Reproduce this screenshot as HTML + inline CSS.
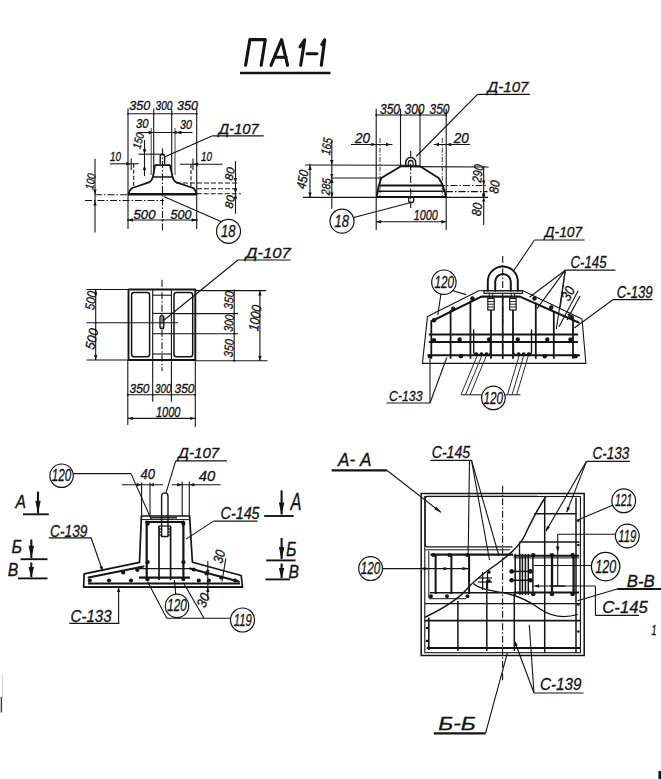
<!DOCTYPE html>
<html><head><meta charset="utf-8"><style>
html,body{margin:0;padding:0;background:#fff;}
svg{display:block;font-family:"Liberation Sans",sans-serif;}
</style></head><body>
<svg width="661" height="779" viewBox="0 0 661 779">
<rect width="661" height="779" fill="#ffffff"/>
<path d="M245.6 65.3 L249.9 39.6 L265.3 39.6 L261.2 65.3" fill="none" stroke="#141414" stroke-width="3.1" stroke-linejoin="round" stroke-linecap="round"/>
<path d="M271 65.3 L281.6 39.6 L287.6 65.3 M274.8 57.2 L286.2 57.2" fill="none" stroke="#141414" stroke-width="3.1" stroke-linejoin="round" stroke-linecap="round"/>
<path d="M300 46.8 L304.7 39.8 L300.7 65.3" fill="none" stroke="#141414" stroke-width="3.1" stroke-linejoin="round" stroke-linecap="round"/>
<path d="M307 53.8 L317 53.8" fill="none" stroke="#141414" stroke-width="2.9" stroke-linejoin="round" stroke-linecap="round"/>
<path d="M321.8 44.5 L324.7 39.8 L321.3 65.3" fill="none" stroke="#141414" stroke-width="3.1" stroke-linejoin="round" stroke-linecap="round"/>
<line x1="240" y1="73" x2="330.5" y2="73" stroke="#141414" stroke-width="2.4"/>
<line x1="128" y1="108.5" x2="128" y2="229" stroke="#141414" stroke-width="1.1"/>
<line x1="196.7" y1="108.5" x2="196.7" y2="229" stroke="#141414" stroke-width="1.1"/>
<line x1="153.7" y1="108.5" x2="153.7" y2="175" stroke="#141414" stroke-width="1.1"/>
<line x1="171.7" y1="108.5" x2="171.7" y2="175" stroke="#141414" stroke-width="1.1"/>
<line x1="128" y1="113.7" x2="196.7" y2="113.7" stroke="#141414" stroke-width="1.1"/>
<circle cx="128" cy="113.7" r="1.0" fill="#141414"/>
<circle cx="153.7" cy="113.7" r="1.0" fill="#141414"/>
<circle cx="171.7" cy="113.7" r="1.0" fill="#141414"/>
<circle cx="196.7" cy="113.7" r="1.0" fill="#141414"/>
<text x="129.3" y="110" font-size="12.10" font-style="italic" font-weight="normal" text-anchor="start" fill="#141414" stroke="#141414" stroke-width="0.32" textLength="21" lengthAdjust="spacingAndGlyphs">350</text>
<text x="155.5" y="110" font-size="12.10" font-style="italic" font-weight="normal" text-anchor="start" fill="#141414" stroke="#141414" stroke-width="0.32" textLength="17" lengthAdjust="spacingAndGlyphs">300</text>
<text x="177" y="110" font-size="12.10" font-style="italic" font-weight="normal" text-anchor="start" fill="#141414" stroke="#141414" stroke-width="0.32" textLength="21" lengthAdjust="spacingAndGlyphs">350</text>
<line x1="137.5" y1="132.5" x2="192.5" y2="132.5" stroke="#141414" stroke-width="1.1"/>
<path d="M153.70 132.50 L148.70 134.20 L148.70 130.80 Z" fill="#141414"/>
<path d="M171.70 132.50 L176.70 130.80 L176.70 134.20 Z" fill="#141414"/>
<line x1="151.2" y1="128" x2="151.2" y2="175" stroke="#141414" stroke-width="0.8"/>
<line x1="175" y1="128" x2="175" y2="175" stroke="#141414" stroke-width="0.8"/>
<path d="M175.50 132.50 L181.50 130.80 L181.50 134.20 Z" fill="#141414"/>
<text x="136" y="127.5" font-size="12.10" font-style="italic" font-weight="normal" text-anchor="start" fill="#141414" stroke="#141414" stroke-width="0.32" textLength="12.5" lengthAdjust="spacingAndGlyphs">30</text>
<text x="180" y="129" font-size="12.10" font-style="italic" font-weight="normal" text-anchor="start" fill="#141414" stroke="#141414" stroke-width="0.32" textLength="12" lengthAdjust="spacingAndGlyphs">30</text>
<text x="140.3" y="149.5" font-size="11.55" font-style="italic" font-weight="normal" text-anchor="start" fill="#141414" stroke="#141414" stroke-width="0.32" textLength="16" lengthAdjust="spacingAndGlyphs" transform="rotate(-76 140.3 149.5)">150</text>
<line x1="144.5" y1="140" x2="144.5" y2="176" stroke="#141414" stroke-width="1.1"/>
<path d="M144.50 154.20 L142.80 149.20 L146.20 149.20 Z" fill="#141414"/>
<path d="M144.50 165.00 L146.20 170.00 L142.80 170.00 Z" fill="#141414"/>
<line x1="138.5" y1="154.2" x2="162" y2="154.2" stroke="#141414" stroke-width="1.1"/>
<line x1="162.5" y1="148.5" x2="162.5" y2="232.5" stroke="#141414" stroke-width="1.1" stroke-dasharray="7 2 1.5 2"/>
<path d="M160.2 163.5 L160.2 156.5 Q160.2 154.3 162.4 154.3 Q164.6 154.3 164.6 156.5 L164.6 163.5" fill="none" stroke="#141414" stroke-width="1.4" stroke-linejoin="round" stroke-linecap="round"/>
<path d="M155.1 165.2 L170 165.2 L172.6 177 Q173.5 181 176.5 182.4 L193 188 Q195.5 189.5 196.5 193.8 L128.5 193.8 Q129.5 189.5 132.5 188 L148.8 182.4 Q151.8 181 152.8 177 Z" fill="none" stroke="#141414" stroke-width="1.7" stroke-linejoin="round" stroke-linecap="round"/>
<line x1="152.8" y1="177" x2="172.6" y2="177" stroke="#141414" stroke-width="1.5"/>
<line x1="128" y1="194.4" x2="196.7" y2="194.4" stroke="#141414" stroke-width="2.2"/>
<text x="110" y="160.5" font-size="12.10" font-style="italic" font-weight="normal" text-anchor="start" fill="#141414" stroke="#141414" stroke-width="0.32" textLength="11" lengthAdjust="spacingAndGlyphs">10</text>
<line x1="110" y1="163.8" x2="138.7" y2="163.8" stroke="#141414" stroke-width="1.1"/>
<path d="M131.20 163.80 L126.20 165.50 L126.20 162.10 Z" fill="#141414"/>
<line x1="131.2" y1="158.5" x2="131.2" y2="170" stroke="#141414" stroke-width="1.1"/>
<line x1="133.7" y1="163.8" x2="133.7" y2="186" stroke="#141414" stroke-width="1.1" stroke-dasharray="4 2"/>
<text x="201" y="161" font-size="12.10" font-style="italic" font-weight="normal" text-anchor="start" fill="#141414" stroke="#141414" stroke-width="0.32" textLength="11" lengthAdjust="spacingAndGlyphs">10</text>
<line x1="180" y1="164.2" x2="222.5" y2="164.2" stroke="#141414" stroke-width="1.1"/>
<path d="M193.00 164.20 L198.00 162.50 L198.00 165.90 Z" fill="#141414"/>
<line x1="193" y1="158.5" x2="193" y2="170" stroke="#141414" stroke-width="1.1"/>
<line x1="191" y1="164.2" x2="191" y2="187" stroke="#141414" stroke-width="1.1" stroke-dasharray="4 2"/>
<text x="93" y="190" font-size="11.55" font-style="italic" font-weight="normal" text-anchor="start" fill="#141414" stroke="#141414" stroke-width="0.32" textLength="16" lengthAdjust="spacingAndGlyphs" transform="rotate(-80 93 190)">100</text>
<line x1="95" y1="158.7" x2="95" y2="232.5" stroke="#141414" stroke-width="1.1"/>
<path d="M95.00 194.40 L93.30 189.40 L96.70 189.40 Z" fill="#141414"/>
<path d="M95.00 200.50 L96.70 205.50 L93.30 205.50 Z" fill="#141414"/>
<line x1="95" y1="194.8" x2="128" y2="194.8" stroke="#141414" stroke-width="1.1" stroke-dasharray="7 2 1.5 2"/>
<line x1="85" y1="200.5" x2="164" y2="200.5" stroke="#141414" stroke-width="1.1" stroke-dasharray="7 2 1.5 2"/>
<line x1="128" y1="220" x2="196.7" y2="220" stroke="#141414" stroke-width="1.1"/>
<circle cx="128" cy="220" r="1.0" fill="#141414"/>
<circle cx="162.5" cy="220" r="1.0" fill="#141414"/>
<circle cx="196.7" cy="220" r="1.0" fill="#141414"/>
<path d="M128.00 220.00 L133.00 218.30 L133.00 221.70 Z" fill="#141414"/>
<path d="M196.70 220.00 L191.70 221.70 L191.70 218.30 Z" fill="#141414"/>
<text x="133.5" y="218.5" font-size="12.10" font-style="italic" font-weight="normal" text-anchor="start" fill="#141414" stroke="#141414" stroke-width="0.32" textLength="22" lengthAdjust="spacingAndGlyphs">500</text>
<text x="170.5" y="218.5" font-size="12.10" font-style="italic" font-weight="normal" text-anchor="start" fill="#141414" stroke="#141414" stroke-width="0.32" textLength="21" lengthAdjust="spacingAndGlyphs">500</text>
<line x1="163.7" y1="196.5" x2="221" y2="221.5" stroke="#141414" stroke-width="1.1"/>
<circle cx="228.5" cy="231.3" r="12" fill="none" stroke="#141414" stroke-width="1.2"/>
<text x="220.9" y="236.9" font-size="16.50" font-style="italic" font-weight="normal" text-anchor="start" fill="#141414" stroke="#141414" stroke-width="0.32" textLength="14.5" lengthAdjust="spacingAndGlyphs">18</text>
<text x="218.7" y="133.5" font-size="14.30" font-style="italic" font-weight="normal" text-anchor="start" fill="#141414" stroke="#141414" stroke-width="0.32" textLength="40" lengthAdjust="spacingAndGlyphs">Д-107</text>
<line x1="212.5" y1="135.8" x2="263.7" y2="135.8" stroke="#141414" stroke-width="1.2"/>
<line x1="212.5" y1="135.8" x2="164.5" y2="157" stroke="#141414" stroke-width="1.1"/>
<line x1="235.5" y1="161" x2="235.5" y2="213.7" stroke="#141414" stroke-width="1.1"/>
<path d="M235.50 183.00 L233.80 178.00 L237.20 178.00 Z" fill="#141414"/>
<path d="M235.50 193.80 L233.80 188.80 L237.20 188.80 Z" fill="#141414"/>
<path d="M235.50 193.80 L237.20 198.80 L233.80 198.80 Z" fill="#141414"/>
<text x="232.5" y="181" font-size="11.55" font-style="italic" font-weight="normal" text-anchor="start" fill="#141414" stroke="#141414" stroke-width="0.32" textLength="13" lengthAdjust="spacingAndGlyphs" transform="rotate(-80 232.5 181)">80</text>
<text x="232.5" y="209" font-size="11.55" font-style="italic" font-weight="normal" text-anchor="start" fill="#141414" stroke="#141414" stroke-width="0.32" textLength="13" lengthAdjust="spacingAndGlyphs" transform="rotate(-80 232.5 209)">80</text>
<line x1="176" y1="183" x2="239" y2="183" stroke="#141414" stroke-width="1.1" stroke-dasharray="5 2"/>
<line x1="197" y1="188.7" x2="239" y2="188.7" stroke="#141414" stroke-width="1.1" stroke-dasharray="5 2"/>
<line x1="196.7" y1="193.8" x2="241" y2="193.8" stroke="#141414" stroke-width="1.1" stroke-dasharray="5 2"/>
<line x1="376.2" y1="108.7" x2="376.2" y2="230" stroke="#141414" stroke-width="1.1"/>
<line x1="446.2" y1="108.7" x2="446.2" y2="230" stroke="#141414" stroke-width="1.1"/>
<line x1="400.5" y1="108.7" x2="400.5" y2="166" stroke="#141414" stroke-width="1.1"/>
<line x1="420" y1="108.7" x2="420" y2="166" stroke="#141414" stroke-width="1.1"/>
<line x1="376.2" y1="115" x2="446.2" y2="115" stroke="#141414" stroke-width="1.1"/>
<circle cx="376.2" cy="115" r="1.0" fill="#141414"/>
<circle cx="400.5" cy="115" r="1.0" fill="#141414"/>
<circle cx="420" cy="115" r="1.0" fill="#141414"/>
<circle cx="446.2" cy="115" r="1.0" fill="#141414"/>
<text x="380" y="114" font-size="14.30" font-style="italic" font-weight="normal" text-anchor="start" fill="#141414" stroke="#141414" stroke-width="0.32" textLength="20" lengthAdjust="spacingAndGlyphs">350</text>
<text x="404.5" y="114" font-size="14.30" font-style="italic" font-weight="normal" text-anchor="start" fill="#141414" stroke="#141414" stroke-width="0.32" textLength="20" lengthAdjust="spacingAndGlyphs">300</text>
<text x="429.5" y="114" font-size="14.30" font-style="italic" font-weight="normal" text-anchor="start" fill="#141414" stroke="#141414" stroke-width="0.32" textLength="20" lengthAdjust="spacingAndGlyphs">350</text>
<text x="355" y="142.5" font-size="14.30" font-style="italic" font-weight="normal" text-anchor="start" fill="#141414" stroke="#141414" stroke-width="0.32" textLength="15" lengthAdjust="spacingAndGlyphs">20</text>
<line x1="351" y1="144.5" x2="392.5" y2="144.5" stroke="#141414" stroke-width="1.1"/>
<path d="M376.20 144.50 L371.20 146.20 L371.20 142.80 Z" fill="#141414"/>
<path d="M391.00 144.50 L386.00 146.20 L386.00 142.80 Z" fill="#141414"/>
<line x1="380" y1="138" x2="380" y2="196" stroke="#141414" stroke-width="0.8" stroke-dasharray="5 1.5 1.5 1.5"/>
<text x="453.7" y="142.5" font-size="14.30" font-style="italic" font-weight="normal" text-anchor="start" fill="#141414" stroke="#141414" stroke-width="0.32" textLength="15" lengthAdjust="spacingAndGlyphs">20</text>
<line x1="433.7" y1="144.5" x2="470" y2="144.5" stroke="#141414" stroke-width="1.1"/>
<path d="M446.20 144.50 L451.20 142.80 L451.20 146.20 Z" fill="#141414"/>
<path d="M434.00 144.50 L439.00 142.80 L439.00 146.20 Z" fill="#141414"/>
<line x1="442.3" y1="138" x2="442.3" y2="196" stroke="#141414" stroke-width="0.8" stroke-dasharray="5 1.5 1.5 1.5"/>
<text x="487.5" y="92.3" font-size="15.40" font-style="italic" font-weight="normal" text-anchor="start" fill="#141414" stroke="#141414" stroke-width="0.32" textLength="41" lengthAdjust="spacingAndGlyphs">Д-107</text>
<line x1="477.5" y1="94.3" x2="530" y2="94.3" stroke="#141414" stroke-width="1.2"/>
<line x1="477.5" y1="94.3" x2="416.2" y2="156.5" stroke="#141414" stroke-width="1.1"/>
<path d="M405.7 166 L405.7 162.5 A5 5 0 0 1 415.7 162.5 L415.7 166" fill="none" stroke="#141414" stroke-width="1.5" stroke-linejoin="round" stroke-linecap="round"/>
<path d="M408.3 166 L408.3 162.8 A2.4 2.4 0 0 1 413.1 162.8 L413.1 166" fill="none" stroke="#141414" stroke-width="1.2" stroke-linejoin="round" stroke-linecap="round"/>
<line x1="410.7" y1="151" x2="410.7" y2="210" stroke="#141414" stroke-width="1.1" stroke-dasharray="7 2 1.5 2"/>
<path d="M401 166.2 L420 166.2 L438.7 178 Q444 186 445.8 196.5 M401 166.2 L381.3 178 Q378 186 376.8 196.5" fill="none" stroke="#141414" stroke-width="1.9" stroke-linejoin="round" stroke-linecap="round"/>
<line x1="376.2" y1="197" x2="446.2" y2="197" stroke="#141414" stroke-width="1.8"/>
<line x1="380" y1="185.5" x2="442.5" y2="185.5" stroke="#141414" stroke-width="1.8"/>
<line x1="378" y1="191.3" x2="444.8" y2="191.3" stroke="#141414" stroke-width="1.5"/>
<path d="M408.7 197.5 L408.7 201 Q408.7 202.7 411.2 202.7 Q413.7 202.7 413.7 201 L413.7 197.5" fill="none" stroke="#141414" stroke-width="1.3" stroke-linejoin="round" stroke-linecap="round"/>
<line x1="305" y1="165" x2="410" y2="165.3" stroke="#141414" stroke-width="1.1"/>
<line x1="410" y1="166.6" x2="488.7" y2="167" stroke="#141414" stroke-width="1.1"/>
<line x1="331" y1="178" x2="381" y2="178" stroke="#141414" stroke-width="1.1"/>
<line x1="303" y1="197.4" x2="488" y2="197.4" stroke="#141414" stroke-width="1.1"/>
<line x1="438" y1="185.5" x2="487.5" y2="185.5" stroke="#141414" stroke-width="1.1" stroke-dasharray="7 2 1.5 2"/>
<line x1="446" y1="191.6" x2="487.5" y2="191.6" stroke="#141414" stroke-width="1.1" stroke-dasharray="7 2 1.5 2"/>
<line x1="331.8" y1="141" x2="331.8" y2="208.7" stroke="#141414" stroke-width="1.1"/>
<path d="M331.80 165.00 L330.10 160.00 L333.50 160.00 Z" fill="#141414"/>
<path d="M331.80 178.00 L333.50 183.00 L330.10 183.00 Z" fill="#141414"/>
<path d="M331.80 197.40 L330.10 192.40 L333.50 192.40 Z" fill="#141414"/>
<path d="M331.80 178.00 L330.10 174.00 L333.50 174.00 Z" fill="#141414"/>
<text x="329.7" y="155.5" font-size="13.20" font-style="italic" font-weight="normal" text-anchor="start" fill="#141414" stroke="#141414" stroke-width="0.32" textLength="17" lengthAdjust="spacingAndGlyphs" transform="rotate(-80 329.7 155.5)">165</text>
<line x1="310" y1="163.7" x2="310" y2="197.4" stroke="#141414" stroke-width="1.1"/>
<path d="M310.00 165.00 L311.70 170.00 L308.30 170.00 Z" fill="#141414"/>
<path d="M310.00 197.40 L308.30 192.40 L311.70 192.40 Z" fill="#141414"/>
<text x="305.3" y="189.5" font-size="13.20" font-style="italic" font-weight="normal" text-anchor="start" fill="#141414" stroke="#141414" stroke-width="0.32" textLength="19" lengthAdjust="spacingAndGlyphs" transform="rotate(-80 305.3 189.5)">450</text>
<text x="329.5" y="195.5" font-size="12.10" font-style="italic" font-weight="normal" text-anchor="start" fill="#141414" stroke="#141414" stroke-width="0.32" textLength="17" lengthAdjust="spacingAndGlyphs" transform="rotate(-85 329.5 195.5)">285</text>
<circle cx="342" cy="221.2" r="12" fill="none" stroke="#141414" stroke-width="1.2"/>
<text x="334.4" y="226.9" font-size="16.50" font-style="italic" font-weight="normal" text-anchor="start" fill="#141414" stroke="#141414" stroke-width="0.32" textLength="14.5" lengthAdjust="spacingAndGlyphs">18</text>
<line x1="353.7" y1="217.5" x2="410" y2="202.7" stroke="#141414" stroke-width="1.1"/>
<text x="413.7" y="220" font-size="14.30" font-style="italic" font-weight="normal" text-anchor="start" fill="#141414" stroke="#141414" stroke-width="0.32" textLength="24" lengthAdjust="spacingAndGlyphs">1000</text>
<line x1="376.2" y1="221.7" x2="446.2" y2="221.7" stroke="#141414" stroke-width="1.1"/>
<path d="M376.20 221.70 L381.20 220.00 L381.20 223.40 Z" fill="#141414"/>
<path d="M446.20 221.70 L441.20 223.40 L441.20 220.00 Z" fill="#141414"/>
<line x1="483.7" y1="166.2" x2="483.7" y2="225" stroke="#141414" stroke-width="1.1"/>
<path d="M483.70 185.50 L482.00 180.50 L485.40 180.50 Z" fill="#141414"/>
<path d="M483.70 191.60 L485.40 196.60 L482.00 196.60 Z" fill="#141414"/>
<path d="M483.70 197.40 L485.40 201.40 L482.00 201.40 Z" fill="#141414"/>
<path d="M483.70 197.40 L482.00 193.40 L485.40 193.40 Z" fill="#141414"/>
<text x="481" y="183" font-size="13.20" font-style="italic" font-weight="normal" text-anchor="start" fill="#141414" stroke="#141414" stroke-width="0.32" textLength="18" lengthAdjust="spacingAndGlyphs" transform="rotate(-82 481 183)">290</text>
<text x="498" y="194" font-size="13.20" font-style="italic" font-weight="normal" text-anchor="start" fill="#141414" stroke="#141414" stroke-width="0.32" textLength="13" lengthAdjust="spacingAndGlyphs" transform="rotate(-82 498 194)">80</text>
<text x="480.5" y="216.5" font-size="13.20" font-style="italic" font-weight="normal" text-anchor="start" fill="#141414" stroke="#141414" stroke-width="0.32" textLength="13" lengthAdjust="spacingAndGlyphs" transform="rotate(-82 480.5 216.5)">80</text>
<path d="M128.5 289.5 L195.3 289.5 L195.3 360 L128.5 360 Z" fill="none" stroke="#141414" stroke-width="1.9" stroke-linejoin="round" stroke-linecap="round"/>
<rect x="131.6" y="292.6" width="18" height="64.2" rx="2.5" fill="none" stroke="#141414" stroke-width="1.5"/>
<rect x="174" y="292.6" width="18.7" height="64.2" rx="2.5" fill="none" stroke="#141414" stroke-width="1.5"/>
<line x1="152.7" y1="289.5" x2="152.7" y2="401.7" stroke="#141414" stroke-width="1.1"/>
<line x1="171.4" y1="289.5" x2="171.4" y2="401.7" stroke="#141414" stroke-width="1.1"/>
<line x1="152.7" y1="295.2" x2="171.4" y2="295.2" stroke="#141414" stroke-width="1.1"/>
<line x1="152.7" y1="354" x2="171.4" y2="354" stroke="#141414" stroke-width="1.1"/>
<line x1="152.7" y1="313.4" x2="171.4" y2="313.4" stroke="#141414" stroke-width="1.1"/>
<line x1="152.7" y1="333.7" x2="171.4" y2="333.7" stroke="#141414" stroke-width="1.1"/>
<rect x="160" y="315.7" width="3.8" height="13" rx="1.9" fill="none" stroke="#141414" stroke-width="1.4"/>
<line x1="162" y1="279.8" x2="162" y2="371" stroke="#141414" stroke-width="1.1" stroke-dasharray="7 2 1.5 2"/>
<line x1="86.5" y1="322.7" x2="178" y2="322.7" stroke="#141414" stroke-width="1.1"/>
<line x1="86.5" y1="289.5" x2="128.5" y2="289.5" stroke="#141414" stroke-width="1.1"/>
<line x1="86.5" y1="360" x2="128.5" y2="360" stroke="#141414" stroke-width="1.1"/>
<line x1="95.7" y1="289.5" x2="95.7" y2="360" stroke="#141414" stroke-width="1.1"/>
<path d="M95.70 289.50 L97.40 294.50 L94.00 294.50 Z" fill="#141414"/>
<path d="M95.70 360.00 L94.00 355.00 L97.40 355.00 Z" fill="#141414"/>
<circle cx="95.7" cy="322.7" r="1.0" fill="#141414"/>
<text x="94" y="310.5" font-size="13.20" font-style="italic" font-weight="normal" text-anchor="start" fill="#141414" stroke="#141414" stroke-width="0.32" textLength="19" lengthAdjust="spacingAndGlyphs" transform="rotate(-82 94 310.5)">500</text>
<text x="94" y="350" font-size="13.20" font-style="italic" font-weight="normal" text-anchor="start" fill="#141414" stroke="#141414" stroke-width="0.32" textLength="21" lengthAdjust="spacingAndGlyphs" transform="rotate(-78 94 350)">500</text>
<line x1="195.3" y1="290.6" x2="266.3" y2="290.6" stroke="#141414" stroke-width="1.1"/>
<line x1="195.3" y1="360.7" x2="267.5" y2="360.7" stroke="#141414" stroke-width="1.1"/>
<line x1="171.4" y1="313.6" x2="238" y2="313.6" stroke="#141414" stroke-width="1.1"/>
<line x1="171.4" y1="333.7" x2="238" y2="333.7" stroke="#141414" stroke-width="1.1"/>
<line x1="234.2" y1="290.6" x2="234.2" y2="360.7" stroke="#141414" stroke-width="1.1"/>
<circle cx="234.2" cy="290.6" r="1.0" fill="#141414"/>
<circle cx="234.2" cy="313.6" r="1.0" fill="#141414"/>
<circle cx="234.2" cy="333.7" r="1.0" fill="#141414"/>
<circle cx="234.2" cy="360.7" r="1.0" fill="#141414"/>
<text x="232.5" y="309.5" font-size="12.65" font-style="italic" font-weight="normal" text-anchor="start" fill="#141414" stroke="#141414" stroke-width="0.32" textLength="18" lengthAdjust="spacingAndGlyphs" transform="rotate(-85 232.5 309.5)">350</text>
<text x="232.5" y="332" font-size="12.65" font-style="italic" font-weight="normal" text-anchor="start" fill="#141414" stroke="#141414" stroke-width="0.32" textLength="17" lengthAdjust="spacingAndGlyphs" transform="rotate(-85 232.5 332)">300</text>
<text x="232.5" y="357.5" font-size="12.65" font-style="italic" font-weight="normal" text-anchor="start" fill="#141414" stroke="#141414" stroke-width="0.32" textLength="18" lengthAdjust="spacingAndGlyphs" transform="rotate(-85 232.5 357.5)">350</text>
<line x1="259.9" y1="290.6" x2="259.9" y2="360.7" stroke="#141414" stroke-width="1.1"/>
<path d="M259.90 290.60 L261.60 295.60 L258.20 295.60 Z" fill="#141414"/>
<path d="M259.90 360.70 L258.20 355.70 L261.60 355.70 Z" fill="#141414"/>
<text x="258" y="331.5" font-size="13.75" font-style="italic" font-weight="normal" text-anchor="start" fill="#141414" stroke="#141414" stroke-width="0.32" textLength="26" lengthAdjust="spacingAndGlyphs" transform="rotate(-82 258 331.5)">1000</text>
<line x1="127.8" y1="360" x2="127.8" y2="425" stroke="#141414" stroke-width="1.1"/>
<line x1="195.3" y1="360" x2="195.3" y2="427" stroke="#141414" stroke-width="1.1"/>
<line x1="127.8" y1="394.8" x2="195.3" y2="394.8" stroke="#141414" stroke-width="1.1"/>
<circle cx="127.8" cy="394.8" r="1.0" fill="#141414"/>
<circle cx="152.7" cy="394.8" r="1.0" fill="#141414"/>
<circle cx="171.4" cy="394.8" r="1.0" fill="#141414"/>
<circle cx="195.3" cy="394.8" r="1.0" fill="#141414"/>
<text x="129.5" y="393" font-size="13.20" font-style="italic" font-weight="normal" text-anchor="start" fill="#141414" stroke="#141414" stroke-width="0.32" textLength="20" lengthAdjust="spacingAndGlyphs">350</text>
<text x="155" y="393" font-size="13.20" font-style="italic" font-weight="normal" text-anchor="start" fill="#141414" stroke="#141414" stroke-width="0.32" textLength="16.5" lengthAdjust="spacingAndGlyphs">300</text>
<text x="174.5" y="393" font-size="13.20" font-style="italic" font-weight="normal" text-anchor="start" fill="#141414" stroke="#141414" stroke-width="0.32" textLength="20" lengthAdjust="spacingAndGlyphs">350</text>
<text x="156" y="417" font-size="14.30" font-style="italic" font-weight="normal" text-anchor="start" fill="#141414" stroke="#141414" stroke-width="0.32" textLength="24.5" lengthAdjust="spacingAndGlyphs">1000</text>
<line x1="127.8" y1="418.4" x2="195.3" y2="418.4" stroke="#141414" stroke-width="1.1"/>
<path d="M127.80 418.40 L132.80 416.70 L132.80 420.10 Z" fill="#141414"/>
<path d="M195.30 418.40 L190.30 420.10 L190.30 416.70 Z" fill="#141414"/>
<text x="245.7" y="258" font-size="15.40" font-style="italic" font-weight="normal" text-anchor="start" fill="#141414" stroke="#141414" stroke-width="0.32" textLength="45" lengthAdjust="spacingAndGlyphs">Д-107</text>
<line x1="238" y1="260" x2="290.7" y2="260" stroke="#141414" stroke-width="1.2"/>
<line x1="238" y1="260" x2="163.5" y2="320.5" stroke="#141414" stroke-width="1.1"/>
<path d="M422.4 363.4 L427.5 316.4 L478.8 290.7 L523 290.7 L582 319 L585.9 363.4 Z" fill="none" stroke="#141414" stroke-width="1.1" stroke-linejoin="round" stroke-linecap="round"/>
<path d="M432 321 L481.4 296.6 L520 296.6 L578.5 322.5" fill="none" stroke="#141414" stroke-width="2.1" stroke-linejoin="round" stroke-linecap="round"/>
<line x1="502.7" y1="256" x2="502.7" y2="359" stroke="#141414" stroke-width="1.1" stroke-dasharray="7 2 1.5 2"/>
<path d="M487.8 290.7 L487.8 281.5 A15 15 0 0 1 517.8 281.5 L517.8 290.7" fill="none" stroke="#141414" stroke-width="2.0" stroke-linejoin="round" stroke-linecap="round"/>
<path d="M495.2 290.7 L495.2 281.8 A7.8 7.8 0 0 1 510.8 281.8 L510.8 290.7" fill="none" stroke="#141414" stroke-width="2.0" stroke-linejoin="round" stroke-linecap="round"/>
<rect x="484" y="290.7" width="38.5" height="2.6" fill="none" stroke="#141414" stroke-width="1.2"/>
<rect x="487.8" y="298.5" width="6.4" height="11.5" fill="none" stroke="#141414" stroke-width="1.2"/>
<line x1="487.8" y1="301.5" x2="494.2" y2="301.5" stroke="#141414" stroke-width="0.9"/>
<line x1="487.8" y1="304.2" x2="494.2" y2="304.2" stroke="#141414" stroke-width="0.9"/>
<line x1="487.8" y1="307" x2="494.2" y2="307" stroke="#141414" stroke-width="0.9"/>
<line x1="489.3" y1="293.3" x2="489.3" y2="298.5" stroke="#141414" stroke-width="1.0"/>
<line x1="492.7" y1="293.3" x2="492.7" y2="298.5" stroke="#141414" stroke-width="1.0"/>
<rect x="509.7" y="298.5" width="6.4" height="11.5" fill="none" stroke="#141414" stroke-width="1.2"/>
<line x1="509.7" y1="301.5" x2="516.1" y2="301.5" stroke="#141414" stroke-width="0.9"/>
<line x1="509.7" y1="304.2" x2="516.1" y2="304.2" stroke="#141414" stroke-width="0.9"/>
<line x1="509.7" y1="307" x2="516.1" y2="307" stroke="#141414" stroke-width="0.9"/>
<line x1="511.2" y1="293.3" x2="511.2" y2="298.5" stroke="#141414" stroke-width="1.0"/>
<line x1="514.6" y1="293.3" x2="514.6" y2="298.5" stroke="#141414" stroke-width="1.0"/>
<line x1="431.3" y1="320.3" x2="431.3" y2="358.8" stroke="#141414" stroke-width="1.8"/>
<line x1="450.6" y1="310" x2="450.6" y2="358.8" stroke="#141414" stroke-width="1.8"/>
<line x1="470.4" y1="300.5" x2="470.4" y2="358.8" stroke="#141414" stroke-width="1.8"/>
<line x1="491" y1="310" x2="491" y2="358.8" stroke="#141414" stroke-width="1.8"/>
<line x1="513" y1="310" x2="513" y2="358.8" stroke="#141414" stroke-width="1.8"/>
<line x1="535.8" y1="302.5" x2="535.8" y2="358.8" stroke="#141414" stroke-width="1.8"/>
<line x1="553.8" y1="311.5" x2="553.8" y2="358.8" stroke="#141414" stroke-width="1.8"/>
<line x1="573" y1="318.5" x2="573" y2="358.8" stroke="#141414" stroke-width="1.8"/>
<line x1="502.7" y1="296.6" x2="502.7" y2="358.8" stroke="#141414" stroke-width="1.7"/>
<line x1="428.8" y1="334.4" x2="578" y2="334.4" stroke="#141414" stroke-width="2.0"/>
<line x1="428.8" y1="342" x2="578" y2="342" stroke="#141414" stroke-width="2.0"/>
<line x1="427.5" y1="355.2" x2="580" y2="355.2" stroke="#141414" stroke-width="2.0"/>
<circle cx="434" cy="320.3" r="2.2" fill="#141414"/>
<circle cx="453.2" cy="308.7" r="2.2" fill="#141414"/>
<circle cx="472.4" cy="298.5" r="2.2" fill="#141414"/>
<circle cx="534.5" cy="298.5" r="2.2" fill="#141414"/>
<circle cx="551.2" cy="307.5" r="2.2" fill="#141414"/>
<circle cx="571.7" cy="317.2" r="2.2" fill="#141414"/>
<circle cx="434" cy="340.3" r="2.2" fill="#141414"/>
<circle cx="459.6" cy="339.5" r="2.2" fill="#141414"/>
<circle cx="489.1" cy="339.5" r="2.2" fill="#141414"/>
<circle cx="517.8" cy="339.5" r="2.2" fill="#141414"/>
<circle cx="547.3" cy="339.5" r="2.2" fill="#141414"/>
<circle cx="570.5" cy="339.5" r="2.2" fill="#141414"/>
<circle cx="430" cy="356.2" r="2.2" fill="#141414"/>
<circle cx="460.9" cy="356.2" r="2.2" fill="#141414"/>
<circle cx="544.8" cy="356.2" r="2.2" fill="#141414"/>
<circle cx="575.6" cy="356.2" r="2.2" fill="#141414"/>
<circle cx="476.3" cy="354.3" r="2.0" fill="#141414"/>
<circle cx="481.4" cy="354.3" r="2.0" fill="#141414"/>
<circle cx="486.5" cy="354.3" r="2.0" fill="#141414"/>
<circle cx="518.6" cy="354.3" r="2.0" fill="#141414"/>
<circle cx="523.7" cy="354.3" r="2.0" fill="#141414"/>
<circle cx="528.8" cy="354.3" r="2.0" fill="#141414"/>
<path d="M473.7 330 L473.7 352 Q473.7 354.9 477 354.9 L487 354.9 Q490.4 354.9 490.4 352 L490.4 343.4" fill="none" stroke="#141414" stroke-width="1.4" stroke-linejoin="round" stroke-linecap="round"/>
<path d="M513.5 343.4 L513.5 352 Q513.5 354.9 517 354.9 L528.5 354.9 Q531.5 354.9 531.5 352 L531.5 330" fill="none" stroke="#141414" stroke-width="1.4" stroke-linejoin="round" stroke-linecap="round"/>
<line x1="477" y1="356.2" x2="461" y2="394.6" stroke="#141414" stroke-width="0.9"/>
<line x1="519" y1="356.2" x2="507.5" y2="394.6" stroke="#141414" stroke-width="0.9"/>
<line x1="481.6" y1="356.2" x2="465.6" y2="394.6" stroke="#141414" stroke-width="0.9"/>
<line x1="523.6" y1="356.2" x2="512.1" y2="394.6" stroke="#141414" stroke-width="0.9"/>
<line x1="486.2" y1="356.2" x2="470.2" y2="394.6" stroke="#141414" stroke-width="0.9"/>
<line x1="528.2" y1="356.2" x2="516.7" y2="394.6" stroke="#141414" stroke-width="0.9"/>
<line x1="461" y1="394.8" x2="482" y2="394.8" stroke="#141414" stroke-width="1.0"/>
<line x1="505" y1="394.8" x2="520.5" y2="394.8" stroke="#141414" stroke-width="1.0"/>
<circle cx="443.9" cy="282.2" r="12.2" fill="none" stroke="#141414" stroke-width="1.2"/>
<text x="434.4" y="287.9" font-size="16.50" font-style="italic" font-weight="normal" text-anchor="start" fill="#141414" stroke="#141414" stroke-width="0.32" textLength="19.5" lengthAdjust="spacingAndGlyphs">120</text>
<line x1="441" y1="293.5" x2="437.8" y2="315" stroke="#141414" stroke-width="1.1"/>
<line x1="452.5" y1="290.5" x2="466" y2="294.6" stroke="#141414" stroke-width="1.1"/>
<circle cx="493.4" cy="397.9" r="11.8" fill="none" stroke="#141414" stroke-width="1.2"/>
<text x="483.6" y="403.5" font-size="16.50" font-style="italic" font-weight="normal" text-anchor="start" fill="#141414" stroke="#141414" stroke-width="0.32" textLength="19.5" lengthAdjust="spacingAndGlyphs">120</text>
<text x="389" y="401" font-size="15.40" font-style="italic" font-weight="normal" text-anchor="start" fill="#141414" stroke="#141414" stroke-width="0.32" textLength="33.5" lengthAdjust="spacingAndGlyphs">С-133</text>
<line x1="386.4" y1="403" x2="430" y2="403" stroke="#141414" stroke-width="1.2"/>
<line x1="430" y1="403" x2="430" y2="358.8" stroke="#141414" stroke-width="1.1"/>
<line x1="430" y1="403" x2="446.8" y2="357.5" stroke="#141414" stroke-width="1.1"/>
<text x="544.8" y="237" font-size="14.85" font-style="italic" font-weight="normal" text-anchor="start" fill="#141414" stroke="#141414" stroke-width="0.32" textLength="37.5" lengthAdjust="spacingAndGlyphs">Д-107</text>
<line x1="534.5" y1="240" x2="584.6" y2="240" stroke="#141414" stroke-width="1.2"/>
<line x1="534.5" y1="240" x2="514" y2="270.2" stroke="#141414" stroke-width="1.1"/>
<text x="570.5" y="267.5" font-size="15.95" font-style="italic" font-weight="normal" text-anchor="start" fill="#141414" stroke="#141414" stroke-width="0.32" textLength="36" lengthAdjust="spacingAndGlyphs">С-145</text>
<line x1="565.3" y1="270.2" x2="615.4" y2="270.2" stroke="#141414" stroke-width="1.2"/>
<line x1="565.3" y1="270.2" x2="529.4" y2="297.2" stroke="#141414" stroke-width="1.1"/>
<line x1="565.3" y1="270.2" x2="537" y2="308.7" stroke="#141414" stroke-width="1.1"/>
<line x1="565.3" y1="270.2" x2="556.3" y2="329.2" stroke="#141414" stroke-width="1.1"/>
<line x1="565.3" y1="270.2" x2="560.2" y2="307.4" stroke="#141414" stroke-width="1.1"/>
<text x="569" y="302" font-size="14.30" font-style="italic" font-weight="normal" text-anchor="start" fill="#141414" stroke="#141414" stroke-width="0.32" textLength="14" lengthAdjust="spacingAndGlyphs" transform="rotate(-62 569 302)">30</text>
<line x1="578.2" y1="290.7" x2="559" y2="326.7" stroke="#141414" stroke-width="1.1"/>
<line x1="580" y1="296" x2="567" y2="320" stroke="#141414" stroke-width="1.1"/>
<path d="M570.50 312.20 L570.12 316.53 L567.12 314.93 Z" fill="#141414"/>
<text x="616.7" y="298.2" font-size="15.95" font-style="italic" font-weight="normal" text-anchor="start" fill="#141414" stroke="#141414" stroke-width="0.32" textLength="36" lengthAdjust="spacingAndGlyphs">С-139</text>
<line x1="612.8" y1="299.7" x2="652.6" y2="299.7" stroke="#141414" stroke-width="1.2"/>
<line x1="612.8" y1="299.7" x2="574.3" y2="328" stroke="#141414" stroke-width="1.1"/>
<path d="M83.6 587.1 L84.2 573.8 L139.5 562.4 L141.4 516 L189.6 516 L192.4 562.2 L241.2 575.5 L242.5 587.1 Z" fill="none" stroke="#141414" stroke-width="1.7" stroke-linejoin="round" stroke-linecap="round"/>
<line x1="83.6" y1="587.1" x2="242.5" y2="587.1" stroke="#141414" stroke-width="1.7"/>
<line x1="141.4" y1="519.6" x2="189.6" y2="519.6" stroke="#141414" stroke-width="1.0"/>
<line x1="150.5" y1="517.8" x2="177" y2="517.8" stroke="#141414" stroke-width="1.4"/>
<path d="M146.7 521.5 L146.7 580 M183.4 521.5 L183.4 580 M146 522 L184 522" fill="none" stroke="#141414" stroke-width="2.2" stroke-linejoin="round" stroke-linecap="round"/>
<path d="M88.5 577.5 L143.5 566.5 M190 568.5 L238.8 581.5" fill="none" stroke="#141414" stroke-width="2.0" stroke-linejoin="round" stroke-linecap="round"/>
<line x1="88" y1="583.5" x2="240" y2="583.5" stroke="#141414" stroke-width="1.8"/>
<line x1="139" y1="568.6" x2="190" y2="568.6" stroke="#141414" stroke-width="1.3"/>
<line x1="139" y1="577.6" x2="190" y2="577.6" stroke="#141414" stroke-width="2.2"/>
<line x1="159" y1="526" x2="159" y2="580" stroke="#141414" stroke-width="1.7"/>
<line x1="170.6" y1="526" x2="170.6" y2="580" stroke="#141414" stroke-width="1.7"/>
<line x1="159" y1="526" x2="170.6" y2="526" stroke="#141414" stroke-width="1.2"/>
<line x1="159" y1="529" x2="161.6" y2="529" stroke="#141414" stroke-width="1.2"/>
<line x1="168" y1="529" x2="170.6" y2="529" stroke="#141414" stroke-width="1.2"/>
<line x1="159" y1="532" x2="161.6" y2="532" stroke="#141414" stroke-width="1.2"/>
<line x1="168" y1="532" x2="170.6" y2="532" stroke="#141414" stroke-width="1.2"/>
<line x1="159" y1="535" x2="161.6" y2="535" stroke="#141414" stroke-width="1.2"/>
<line x1="168" y1="535" x2="170.6" y2="535" stroke="#141414" stroke-width="1.2"/>
<path d="M161.6 536.5 L161.6 496 Q161.6 492.9 164.8 492.9 Q168 492.9 168 496 L168 536.5 Z" fill="none" stroke="#141414" stroke-width="1.4" stroke-linejoin="round" stroke-linecap="round"/>
<circle cx="89.8" cy="580.5" r="2.1" fill="#141414"/>
<circle cx="109" cy="580.5" r="2.1" fill="#141414"/>
<circle cx="123.2" cy="572.5" r="2.1" fill="#141414"/>
<circle cx="131" cy="580.5" r="2.1" fill="#141414"/>
<circle cx="137.3" cy="570" r="2.1" fill="#141414"/>
<circle cx="147.6" cy="562.2" r="2.1" fill="#141414"/>
<circle cx="147.6" cy="579" r="2.1" fill="#141414"/>
<circle cx="147.6" cy="523.7" r="2.1" fill="#141414"/>
<circle cx="183.4" cy="523.7" r="2.1" fill="#141414"/>
<circle cx="183.4" cy="562.2" r="2.1" fill="#141414"/>
<circle cx="183.4" cy="579" r="2.1" fill="#141414"/>
<circle cx="193.7" cy="569.5" r="2.1" fill="#141414"/>
<circle cx="198.8" cy="580.5" r="2.1" fill="#141414"/>
<circle cx="206.5" cy="573.5" r="2.1" fill="#141414"/>
<circle cx="208.8" cy="580.5" r="2.1" fill="#141414"/>
<circle cx="221.2" cy="577.5" r="2.1" fill="#141414"/>
<circle cx="235" cy="580.5" r="2.1" fill="#141414"/>
<text x="140.5" y="478.8" font-size="14.30" font-style="italic" font-weight="normal" text-anchor="start" fill="#141414" stroke="#141414" stroke-width="0.32" textLength="14.5" lengthAdjust="spacingAndGlyphs">40</text>
<line x1="121.8" y1="484.7" x2="162.9" y2="484.7" stroke="#141414" stroke-width="1.1"/>
<path d="M141.60 484.70 L136.60 486.40 L136.60 483.00 Z" fill="#141414"/>
<path d="M150.00 484.70 L154.00 483.00 L154.00 486.40 Z" fill="#141414"/>
<line x1="141.6" y1="482.5" x2="141.6" y2="516" stroke="#141414" stroke-width="1.1"/>
<line x1="150" y1="482.5" x2="150" y2="516" stroke="#141414" stroke-width="1.1"/>
<text x="198.8" y="481.3" font-size="14.30" font-style="italic" font-weight="normal" text-anchor="start" fill="#141414" stroke="#141414" stroke-width="0.32" textLength="16.5" lengthAdjust="spacingAndGlyphs">40</text>
<line x1="171.9" y1="484.7" x2="220.7" y2="484.7" stroke="#141414" stroke-width="1.1"/>
<path d="M182.20 484.70 L177.20 486.40 L177.20 483.00 Z" fill="#141414"/>
<path d="M189.30 484.70 L194.30 483.00 L194.30 486.40 Z" fill="#141414"/>
<line x1="182.2" y1="481.5" x2="182.2" y2="516" stroke="#141414" stroke-width="1.1"/>
<line x1="189.3" y1="481.5" x2="189.3" y2="516" stroke="#141414" stroke-width="1.1"/>
<text x="178.3" y="458.2" font-size="15.40" font-style="italic" font-weight="normal" text-anchor="start" fill="#141414" stroke="#141414" stroke-width="0.32" textLength="41" lengthAdjust="spacingAndGlyphs">Д-107</text>
<line x1="175.7" y1="460.8" x2="227" y2="460.8" stroke="#141414" stroke-width="1.2"/>
<line x1="175.7" y1="460.8" x2="166" y2="492.9" stroke="#141414" stroke-width="1.1"/>
<circle cx="61.6" cy="475.7" r="11.7" fill="none" stroke="#141414" stroke-width="1.2"/>
<text x="51.8" y="481.4" font-size="16.50" font-style="italic" font-weight="normal" text-anchor="start" fill="#141414" stroke="#141414" stroke-width="0.32" textLength="19.5" lengthAdjust="spacingAndGlyphs">120</text>
<line x1="73.2" y1="473.6" x2="131" y2="473.6" stroke="#141414" stroke-width="1.1"/>
<line x1="131" y1="473.6" x2="151.5" y2="520" stroke="#141414" stroke-width="1.1"/>
<text x="15.4" y="508" font-size="18.70" font-style="italic" font-weight="normal" text-anchor="start" fill="#141414" stroke="#141414" stroke-width="0.32" textLength="10.5" lengthAdjust="spacingAndGlyphs">А</text>
<line x1="38" y1="491.6" x2="38" y2="513.5" stroke="#141414" stroke-width="2.1"/>
<path d="M38.00 513.80 L35.30 500.80 L40.70 500.80 Z" fill="#141414"/>
<line x1="23" y1="514.3" x2="48.8" y2="514.3" stroke="#141414" stroke-width="1.9"/>
<text x="11.5" y="553" font-size="18.70" font-style="italic" font-weight="normal" text-anchor="start" fill="#141414" stroke="#141414" stroke-width="0.32" textLength="10.5" lengthAdjust="spacingAndGlyphs">Б</text>
<line x1="31.3" y1="539.5" x2="31.3" y2="558" stroke="#141414" stroke-width="2.1"/>
<path d="M31.30 558.80 L28.60 545.80 L34.00 545.80 Z" fill="#141414"/>
<line x1="20.5" y1="559.2" x2="47.5" y2="559.2" stroke="#141414" stroke-width="1.9"/>
<text x="7.7" y="576.2" font-size="18.70" font-style="italic" font-weight="normal" text-anchor="start" fill="#141414" stroke="#141414" stroke-width="0.32" textLength="10.5" lengthAdjust="spacingAndGlyphs">В</text>
<line x1="31.3" y1="562.5" x2="31.3" y2="577" stroke="#141414" stroke-width="2.1"/>
<path d="M31.30 578.00 L28.60 567.00 L34.00 567.00 Z" fill="#141414"/>
<line x1="18" y1="578.4" x2="47.5" y2="578.4" stroke="#141414" stroke-width="1.9"/>
<text x="290.5" y="510.3" font-size="23.65" font-style="italic" font-weight="normal" text-anchor="start" fill="#141414" stroke="#141414" stroke-width="0.32" textLength="11" lengthAdjust="spacingAndGlyphs">А</text>
<line x1="281.6" y1="490.3" x2="281.6" y2="514.5" stroke="#141414" stroke-width="2.1"/>
<path d="M281.60 515.50 L278.90 502.50 L284.30 502.50 Z" fill="#141414"/>
<line x1="264.2" y1="516" x2="293.7" y2="516" stroke="#141414" stroke-width="1.9"/>
<text x="286" y="556" font-size="20.35" font-style="italic" font-weight="normal" text-anchor="start" fill="#141414" stroke="#141414" stroke-width="0.32" textLength="10.5" lengthAdjust="spacingAndGlyphs">Б</text>
<line x1="281.6" y1="538" x2="281.6" y2="559" stroke="#141414" stroke-width="2.1"/>
<path d="M281.60 560.00 L278.90 547.00 L284.30 547.00 Z" fill="#141414"/>
<line x1="266.2" y1="560.4" x2="295.5" y2="560.4" stroke="#141414" stroke-width="1.9"/>
<text x="288.6" y="577.5" font-size="18.70" font-style="italic" font-weight="normal" text-anchor="start" fill="#141414" stroke="#141414" stroke-width="0.32" textLength="10.5" lengthAdjust="spacingAndGlyphs">В</text>
<line x1="281.6" y1="563.5" x2="281.6" y2="578" stroke="#141414" stroke-width="2.1"/>
<path d="M281.60 579.00 L278.90 568.00 L284.30 568.00 Z" fill="#141414"/>
<line x1="265.5" y1="579.4" x2="290" y2="579.4" stroke="#141414" stroke-width="1.9"/>
<text x="50" y="536.5" font-size="15.95" font-style="italic" font-weight="normal" text-anchor="start" fill="#141414" stroke="#141414" stroke-width="0.32" textLength="37.5" lengthAdjust="spacingAndGlyphs">С-139</text>
<line x1="48.8" y1="537.8" x2="91.1" y2="537.8" stroke="#141414" stroke-width="1.2"/>
<line x1="91.1" y1="537.8" x2="102.7" y2="571.2" stroke="#141414" stroke-width="1.1"/>
<path d="M102.70 571.20 L99.46 567.03 L102.68 565.92 Z" fill="#141414"/>
<text x="70.6" y="622.3" font-size="16.50" font-style="italic" font-weight="normal" text-anchor="start" fill="#141414" stroke="#141414" stroke-width="0.32" textLength="41" lengthAdjust="spacingAndGlyphs">С-133</text>
<line x1="69.3" y1="623.3" x2="119.4" y2="623.3" stroke="#141414" stroke-width="1.2"/>
<line x1="118.6" y1="623.3" x2="118.6" y2="587.1" stroke="#141414" stroke-width="1.1"/>
<path d="M118.60 587.10 L120.30 592.10 L116.90 592.10 Z" fill="#141414"/>
<text x="220.6" y="519" font-size="15.95" font-style="italic" font-weight="normal" text-anchor="start" fill="#141414" stroke="#141414" stroke-width="0.32" textLength="39" lengthAdjust="spacingAndGlyphs">С-145</text>
<line x1="213.5" y1="521.1" x2="257.5" y2="521.1" stroke="#141414" stroke-width="1.2"/>
<line x1="213.5" y1="521.1" x2="186" y2="539.1" stroke="#141414" stroke-width="1.1"/>
<text x="222" y="564" font-size="13.75" font-style="italic" font-weight="normal" text-anchor="start" fill="#141414" stroke="#141414" stroke-width="0.32" textLength="13" lengthAdjust="spacingAndGlyphs" transform="rotate(-75 222 564)">30</text>
<line x1="207.8" y1="561" x2="207.8" y2="599.4" stroke="#141414" stroke-width="1.1"/>
<path d="M207.80 575.00 L206.10 570.00 L209.50 570.00 Z" fill="#141414"/>
<path d="M207.80 587.10 L209.50 592.10 L206.10 592.10 Z" fill="#141414"/>
<line x1="225.8" y1="558.4" x2="222" y2="581.5" stroke="#141414" stroke-width="1.1"/>
<text x="205" y="608.5" font-size="13.75" font-style="italic" font-weight="normal" text-anchor="start" fill="#141414" stroke="#141414" stroke-width="0.32" textLength="14" lengthAdjust="spacingAndGlyphs" transform="rotate(-68 205 608.5)">30</text>
<circle cx="177" cy="605.9" r="11.7" fill="none" stroke="#141414" stroke-width="1.2"/>
<text x="167.2" y="611.4" font-size="16.50" font-style="italic" font-weight="normal" text-anchor="start" fill="#141414" stroke="#141414" stroke-width="0.32" textLength="19.5" lengthAdjust="spacingAndGlyphs">120</text>
<line x1="175.7" y1="594.3" x2="174.5" y2="580.2" stroke="#141414" stroke-width="1.1"/>
<circle cx="242.5" cy="620" r="12" fill="none" stroke="#141414" stroke-width="1.2"/>
<text x="233.7" y="625.6" font-size="16.50" font-style="italic" font-weight="normal" text-anchor="start" fill="#141414" stroke="#141414" stroke-width="0.32" textLength="18" lengthAdjust="spacingAndGlyphs">119</text>
<line x1="166.8" y1="618.2" x2="231" y2="618.2" stroke="#141414" stroke-width="1.1"/>
<line x1="166.8" y1="618.2" x2="147.5" y2="581.5" stroke="#141414" stroke-width="1.1"/>
<line x1="204" y1="618.2" x2="183.4" y2="582.8" stroke="#141414" stroke-width="1.1"/>
<rect x="421.2" y="493.5" width="163" height="162" fill="none" stroke="#141414" stroke-width="1.5"/>
<rect x="424.8" y="496.5" width="155.6" height="156.2" fill="none" stroke="#141414" stroke-width="1.1"/>
<path d="M537 496.3 L427.5 496.3 Q425.2 496.3 425.2 498.6 L425.2 544.5 Q425.2 546.9 427.5 546.9 L512 546.9" fill="none" stroke="#141414" stroke-width="1.2" stroke-linejoin="round" stroke-linecap="round"/>
<line x1="425.2" y1="549.8" x2="510" y2="549.8" stroke="#141414" stroke-width="1.0"/>
<line x1="502.6" y1="485.7" x2="502.6" y2="682" stroke="#141414" stroke-width="1.1" stroke-dasharray="7 2 1.5 2"/>
<line x1="428.8" y1="551" x2="428.8" y2="598" stroke="#141414" stroke-width="1.0"/>
<line x1="430.5" y1="554.7" x2="513" y2="554.7" stroke="#141414" stroke-width="2.2"/>
<line x1="435.6" y1="554.7" x2="435.6" y2="594" stroke="#141414" stroke-width="2.0"/>
<line x1="451.4" y1="554.7" x2="451.4" y2="594" stroke="#141414" stroke-width="2.0"/>
<line x1="469.1" y1="554.7" x2="469.1" y2="594" stroke="#141414" stroke-width="2.0"/>
<circle cx="433.5" cy="555" r="2.1" fill="#141414"/>
<circle cx="449.5" cy="555" r="2.1" fill="#141414"/>
<circle cx="467.5" cy="555" r="2.1" fill="#141414"/>
<circle cx="431" cy="596.2" r="2.0" fill="#141414"/>
<circle cx="447" cy="596.2" r="2.0" fill="#141414"/>
<circle cx="467.5" cy="596.2" r="2.0" fill="#141414"/>
<line x1="430" y1="592.8" x2="535" y2="592.8" stroke="#141414" stroke-width="1.6"/>
<path d="M546 496.5 C540 505 532 520 525 535 C520 546 508 556 497 564 C485 572 474 581 466 590 C458 599 440 610 425.5 617" fill="none" stroke="#141414" stroke-width="1.5" stroke-linejoin="round" stroke-linecap="round"/>
<path d="M474 584 C480 590 494 591 503.5 592.8 C520 596 532 603 540 609 C552 617 566 618 577.5 614.5" fill="none" stroke="#141414" stroke-width="1.3" stroke-linejoin="round" stroke-linecap="round"/>
<line x1="482.6" y1="572" x2="482.6" y2="590" stroke="#141414" stroke-width="1.3"/>
<line x1="487.5" y1="572" x2="487.5" y2="590" stroke="#141414" stroke-width="1.3"/>
<line x1="478" y1="578" x2="492" y2="578" stroke="#141414" stroke-width="1.2"/>
<line x1="478" y1="582" x2="492" y2="582" stroke="#141414" stroke-width="1.2"/>
<circle cx="489" cy="572" r="1.7" fill="#141414"/>
<circle cx="489" cy="581" r="1.7" fill="#141414"/>
<line x1="515.2" y1="553.8" x2="515.2" y2="595" stroke="#141414" stroke-width="1.5"/>
<line x1="519.9" y1="553.8" x2="519.9" y2="595" stroke="#141414" stroke-width="1.5"/>
<line x1="522.4" y1="553.8" x2="522.4" y2="595" stroke="#141414" stroke-width="1.5"/>
<line x1="525.4" y1="553.8" x2="525.4" y2="595" stroke="#141414" stroke-width="1.5"/>
<line x1="528.3" y1="553.8" x2="528.3" y2="595" stroke="#141414" stroke-width="1.5"/>
<line x1="532.9" y1="553.8" x2="532.9" y2="595" stroke="#141414" stroke-width="1.5"/>
<line x1="511" y1="571.4" x2="533" y2="571.4" stroke="#141414" stroke-width="1.5"/>
<line x1="511" y1="580.3" x2="533" y2="580.3" stroke="#141414" stroke-width="1.5"/>
<circle cx="511.6" cy="571.4" r="2.3" fill="#141414"/>
<circle cx="530.3" cy="571.4" r="2.3" fill="#141414"/>
<circle cx="511.6" cy="580.3" r="2.3" fill="#141414"/>
<circle cx="530.3" cy="580.3" r="2.3" fill="#141414"/>
<circle cx="533.3" cy="555.3" r="2.3" fill="#141414"/>
<circle cx="552" cy="555.3" r="2.3" fill="#141414"/>
<circle cx="572.6" cy="555.3" r="2.3" fill="#141414"/>
<circle cx="533.3" cy="594" r="2.3" fill="#141414"/>
<circle cx="552" cy="594" r="2.3" fill="#141414"/>
<circle cx="572.6" cy="594" r="2.3" fill="#141414"/>
<line x1="513.6" y1="555.7" x2="579" y2="555.7" stroke="#141414" stroke-width="2.0"/>
<line x1="513.6" y1="557.9" x2="579" y2="557.9" stroke="#141414" stroke-width="1.0"/>
<line x1="513.6" y1="592.5" x2="579" y2="592.5" stroke="#141414" stroke-width="2.0"/>
<line x1="552" y1="555.7" x2="552" y2="594" stroke="#141414" stroke-width="2.3"/>
<line x1="573.6" y1="555.7" x2="573.6" y2="594" stroke="#141414" stroke-width="2.3"/>
<line x1="544.7" y1="497.7" x2="544.7" y2="653" stroke="#141414" stroke-width="1.5"/>
<line x1="576" y1="497.7" x2="576" y2="653" stroke="#141414" stroke-width="1.5"/>
<line x1="534.2" y1="513.8" x2="576.5" y2="513.8" stroke="#141414" stroke-width="1.5"/>
<line x1="519.5" y1="542" x2="579.5" y2="542" stroke="#141414" stroke-width="1.6"/>
<line x1="519.5" y1="542" x2="519.5" y2="555" stroke="#141414" stroke-width="1.3"/>
<line x1="428.8" y1="598.7" x2="466" y2="598.7" stroke="#141414" stroke-width="1.0"/>
<line x1="424.8" y1="603.6" x2="580" y2="603.6" stroke="#141414" stroke-width="1.1"/>
<line x1="424.8" y1="620.7" x2="580" y2="620.7" stroke="#141414" stroke-width="1.8"/>
<line x1="426.8" y1="648" x2="580" y2="648" stroke="#141414" stroke-width="1.8"/>
<line x1="428.8" y1="617.4" x2="428.8" y2="650" stroke="#141414" stroke-width="1.6"/>
<line x1="457.9" y1="601" x2="457.9" y2="651" stroke="#141414" stroke-width="1.5"/>
<line x1="486.8" y1="601" x2="486.8" y2="651" stroke="#141414" stroke-width="1.5"/>
<line x1="514.3" y1="601" x2="514.3" y2="651" stroke="#141414" stroke-width="1.5"/>
<line x1="486.8" y1="580" x2="486.8" y2="601" stroke="#141414" stroke-width="1.4"/>
<line x1="514.3" y1="594" x2="514.3" y2="601" stroke="#141414" stroke-width="1.4"/>
<circle cx="427" cy="628" r="1.3" fill="#141414"/>
<circle cx="427" cy="641" r="1.3" fill="#141414"/>
<circle cx="578.3" cy="604.5" r="1.3" fill="#141414"/>
<circle cx="578.3" cy="631.5" r="1.3" fill="#141414"/>
<circle cx="578.3" cy="520.8" r="1.3" fill="#141414"/>
<circle cx="578.3" cy="545" r="1.3" fill="#141414"/>
<circle cx="370.6" cy="568.6" r="11.9" fill="none" stroke="#141414" stroke-width="1.2"/>
<text x="360.8" y="574.2" font-size="16.50" font-style="italic" font-weight="normal" text-anchor="start" fill="#141414" stroke="#141414" stroke-width="0.32" textLength="19.5" lengthAdjust="spacingAndGlyphs">120</text>
<line x1="382.5" y1="568.6" x2="470" y2="568.6" stroke="#141414" stroke-width="1.1"/>
<path d="M429.50 568.60 L423.50 570.30 L423.50 566.90 Z" fill="#141414"/>
<path d="M449.50 568.60 L443.50 570.30 L443.50 566.90 Z" fill="#141414"/>
<path d="M468.50 568.60 L462.50 570.30 L462.50 566.90 Z" fill="#141414"/>
<text x="338" y="466" font-size="18.70" font-style="italic" font-weight="normal" text-anchor="start" fill="#141414" stroke="#141414" stroke-width="0.32" textLength="33.5" lengthAdjust="spacingAndGlyphs">А- А</text>
<line x1="331.6" y1="470.3" x2="386.8" y2="470.3" stroke="#141414" stroke-width="2.2"/>
<line x1="386.8" y1="470.3" x2="440.7" y2="512.2" stroke="#141414" stroke-width="1.1"/>
<path d="M441.50 512.80 L434.21 509.14 L436.18 506.61 Z" fill="#141414"/>
<text x="431.7" y="457.5" font-size="16.50" font-style="italic" font-weight="normal" text-anchor="start" fill="#141414" stroke="#141414" stroke-width="0.32" textLength="38.5" lengthAdjust="spacingAndGlyphs">С-145</text>
<line x1="430.4" y1="460.3" x2="471.5" y2="460.3" stroke="#141414" stroke-width="1.2"/>
<line x1="469.5" y1="460.3" x2="468.2" y2="553.5" stroke="#141414" stroke-width="1.1"/>
<line x1="471.5" y1="460.3" x2="489.5" y2="560" stroke="#141414" stroke-width="1.1"/>
<line x1="471.5" y1="460.3" x2="499" y2="556" stroke="#141414" stroke-width="1.1"/>
<text x="592.4" y="459" font-size="15.95" font-style="italic" font-weight="normal" text-anchor="start" fill="#141414" stroke="#141414" stroke-width="0.32" textLength="36.8" lengthAdjust="spacingAndGlyphs">С-133</text>
<line x1="586.5" y1="461.4" x2="630" y2="461.4" stroke="#141414" stroke-width="1.2"/>
<line x1="586.5" y1="461.4" x2="545.9" y2="531.1" stroke="#141414" stroke-width="1.1"/>
<path d="M545.90 531.10 L546.93 525.92 L549.87 527.62 Z" fill="#141414"/>
<line x1="586.5" y1="461.4" x2="566.7" y2="512.3" stroke="#141414" stroke-width="1.1"/>
<path d="M566.70 512.30 L566.90 507.02 L570.08 508.24 Z" fill="#141414"/>
<circle cx="623.7" cy="500.8" r="11.9" fill="none" stroke="#141414" stroke-width="1.2"/>
<text x="614.9" y="506.4" font-size="16.50" font-style="italic" font-weight="normal" text-anchor="start" fill="#141414" stroke="#141414" stroke-width="0.32" textLength="17.5" lengthAdjust="spacingAndGlyphs">121</text>
<line x1="612.6" y1="505.3" x2="576.6" y2="520.4" stroke="#141414" stroke-width="1.1"/>
<circle cx="627.3" cy="536" r="11.9" fill="none" stroke="#141414" stroke-width="1.2"/>
<text x="618.2" y="541.6" font-size="16.50" font-style="italic" font-weight="normal" text-anchor="start" fill="#141414" stroke="#141414" stroke-width="0.32" textLength="18" lengthAdjust="spacingAndGlyphs">119</text>
<line x1="557.7" y1="534.3" x2="615.4" y2="534.3" stroke="#141414" stroke-width="1.1"/>
<line x1="557.7" y1="534.3" x2="557.7" y2="586" stroke="#141414" stroke-width="1.1"/>
<path d="M557.70 552.50 L556.00 546.50 L559.40 546.50 Z" fill="#141414"/>
<circle cx="605.6" cy="566.6" r="14.2" fill="none" stroke="#141414" stroke-width="1.3"/>
<text x="595.2" y="572.8" font-size="18.15" font-style="italic" font-weight="normal" text-anchor="start" fill="#141414" stroke="#141414" stroke-width="0.32" textLength="21" lengthAdjust="spacingAndGlyphs">120</text>
<line x1="534" y1="565.5" x2="591.4" y2="565.5" stroke="#141414" stroke-width="1.1"/>
<text x="626.8" y="587" font-size="17.05" font-style="italic" font-weight="normal" text-anchor="start" fill="#141414" stroke="#141414" stroke-width="0.32" textLength="28" lengthAdjust="spacingAndGlyphs">В-В</text>
<line x1="617.2" y1="589" x2="661" y2="589" stroke="#141414" stroke-width="2.0"/>
<line x1="617.2" y1="589" x2="577.6" y2="600.8" stroke="#141414" stroke-width="1.1"/>
<text x="602.3" y="612.7" font-size="16.50" font-style="italic" font-weight="normal" text-anchor="start" fill="#141414" stroke="#141414" stroke-width="0.32" textLength="45.5" lengthAdjust="spacingAndGlyphs">С-145</text>
<line x1="595.4" y1="615.3" x2="639" y2="615.3" stroke="#141414" stroke-width="1.2"/>
<line x1="595.4" y1="615.3" x2="595.4" y2="586" stroke="#141414" stroke-width="1.1"/>
<line x1="595.4" y1="586" x2="534" y2="586" stroke="#141414" stroke-width="1.1"/>
<path d="M534.00 586.00 L539.00 584.30 L539.00 587.70 Z" fill="#141414"/>
<line x1="550" y1="586" x2="565" y2="586" stroke="#141414" stroke-width="1.4"/>
<text x="651.5" y="634.5" font-size="14.30" font-style="italic" font-weight="normal" text-anchor="start" fill="#141414" stroke="#141414" stroke-width="0.32" textLength="5" lengthAdjust="spacingAndGlyphs">1</text>
<text x="540" y="690" font-size="16.50" font-style="italic" font-weight="normal" text-anchor="start" fill="#141414" stroke="#141414" stroke-width="0.32" textLength="41.5" lengthAdjust="spacingAndGlyphs">С-139</text>
<line x1="534" y1="693" x2="583.5" y2="693" stroke="#141414" stroke-width="1.2"/>
<line x1="534" y1="693" x2="514.5" y2="641" stroke="#141414" stroke-width="1.1"/>
<line x1="534" y1="693" x2="529.3" y2="625" stroke="#141414" stroke-width="1.1"/>
<path d="M514.50 641.00 L517.81 645.12 L514.61 646.28 Z" fill="#141414"/>
<text x="438.3" y="730.4" font-size="18.70" font-style="italic" font-weight="normal" text-anchor="start" fill="#141414" stroke="#141414" stroke-width="0.32" textLength="37.5" lengthAdjust="spacingAndGlyphs">Б-Б</text>
<line x1="433.8" y1="733.4" x2="485.6" y2="733.4" stroke="#141414" stroke-width="2.4"/>
<line x1="485.6" y1="733.2" x2="507.4" y2="652.8" stroke="#141414" stroke-width="1.1"/>
<line x1="2.3" y1="675" x2="2.3" y2="698" stroke="#b5b5b5" stroke-width="0.7"/>
<line x1="1.4" y1="697" x2="1.4" y2="712.5" stroke="#3a3a3a" stroke-width="1.4"/>
<rect x="658.4" y="771" width="2.6" height="8" fill="#151515"/>
</svg></body></html>
